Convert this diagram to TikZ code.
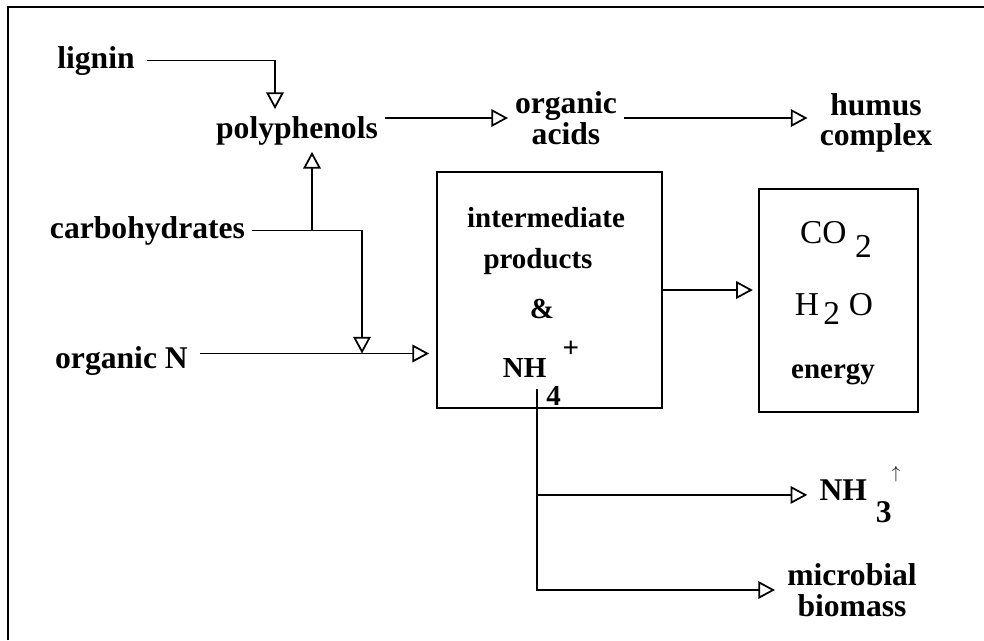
\documentclass[tikz,border=0pt]{standalone}
\usepackage{fontspec}
\setmainfont{Liberation Serif}
\usetikzlibrary{arrows.meta}

\begin{document}
\begin{tikzpicture}[x=0.02cm,y=-0.02cm,>={Triangle[open,length=9.5pt,width=10pt]},line width=1pt,
  lbl/.style={font=\bfseries\fontsize{18}{17.5}\selectfont,inner sep=4pt,outer sep=3pt,align=center},
  boxtxt/.style={font=\bfseries\fontsize{16.5}{18}\selectfont,inner sep=0pt,anchor=base},
  gastxt/.style={font=\fontsize{19}{20}\selectfont,inner sep=0pt,anchor=base},
  pool/.style={draw,inner sep=0pt}]

\useasboundingbox (0,0) rectangle (984,640);
\draw[line width=0.8pt] (8,640) -- (8,7) -- (984,7);

\node (lignin) [lbl,anchor=base] at (96,68) {lignin};
\node (polyph) [lbl,anchor=base,outer sep=0pt] at (297,138) {polyphenols};
\node (orgacids) [lbl,outer sep=0pt] at (566,118) {organic\\acids};
\node (humus) [lbl] at (876,123) {humus\\complex};
\node (carbo) [lbl,anchor=base,outer sep=0pt] at (147.5,238) {carbohydrates};
\node (orgN) [lbl,anchor=base] at (121.5,368) {organic N};

\node (box) [pool,minimum width=4.5cm,minimum height=4.72cm] at (549.5,290) {};
\node (gas) [pool,minimum width=3.18cm,minimum height=4.46cm] at (838.5,300.5) {};

\node (inter) [boxtxt] at (546,227) {intermediate};
\node (prod) [boxtxt] at (538,268) {products};
\node (amp) [boxtxt] at (542,318) {\&};
\node (nh) [boxtxt] at (541,377) {NH\raisebox{-16pt}{4}\hspace{1pt}\raisebox{11pt}{+}};

\node (co) [gastxt] at (836,243) {CO\hspace{5pt}\raisebox{-8.5pt}{2}};
\node (water) [gastxt] at (834,315) {H\hspace{2.5pt}\raisebox{-5.5pt}{2}\hspace{5pt}O};
\node (energy) [boxtxt] at (833,378) {energy};

\node (nhthree) [lbl,anchor=base] at (860,500) {NH\hspace{5pt}\raisebox{-13pt}{3}\raisebox{12pt}{\fontsize{10}{10}\selectfont$\uparrow$}};
\node (micro) [lbl] at (852,590) {microbial\\biomass};

\coordinate (nin) at ([yshift=4pt]orgN.east);
\coordinate (mix) at (nin -| 362,0);
\coordinate (split) at (carbo -| 312,0);
\coordinate (stem) at (537,389);

\draw[->] (lignin) -| (275,0 |- polyph.north);
\draw[->] (carbo) -| (mix);
\draw[->] (split) -- (312,0 |- polyph.south);
\draw[->,shorten >=4pt] (nin) -- (nin -| box.west);
\draw[->] (polyph.east |- orgacids) -- (orgacids);
\draw[->] (orgacids) -- (orgacids -| humus.west);
\draw[->,shorten >=3pt] (box) -- (box -| gas.west);
\draw[->] (stem |- nhthree) -- (nhthree);
\draw[->] (stem) |- (micro);

\end{tikzpicture}
\end{document}
